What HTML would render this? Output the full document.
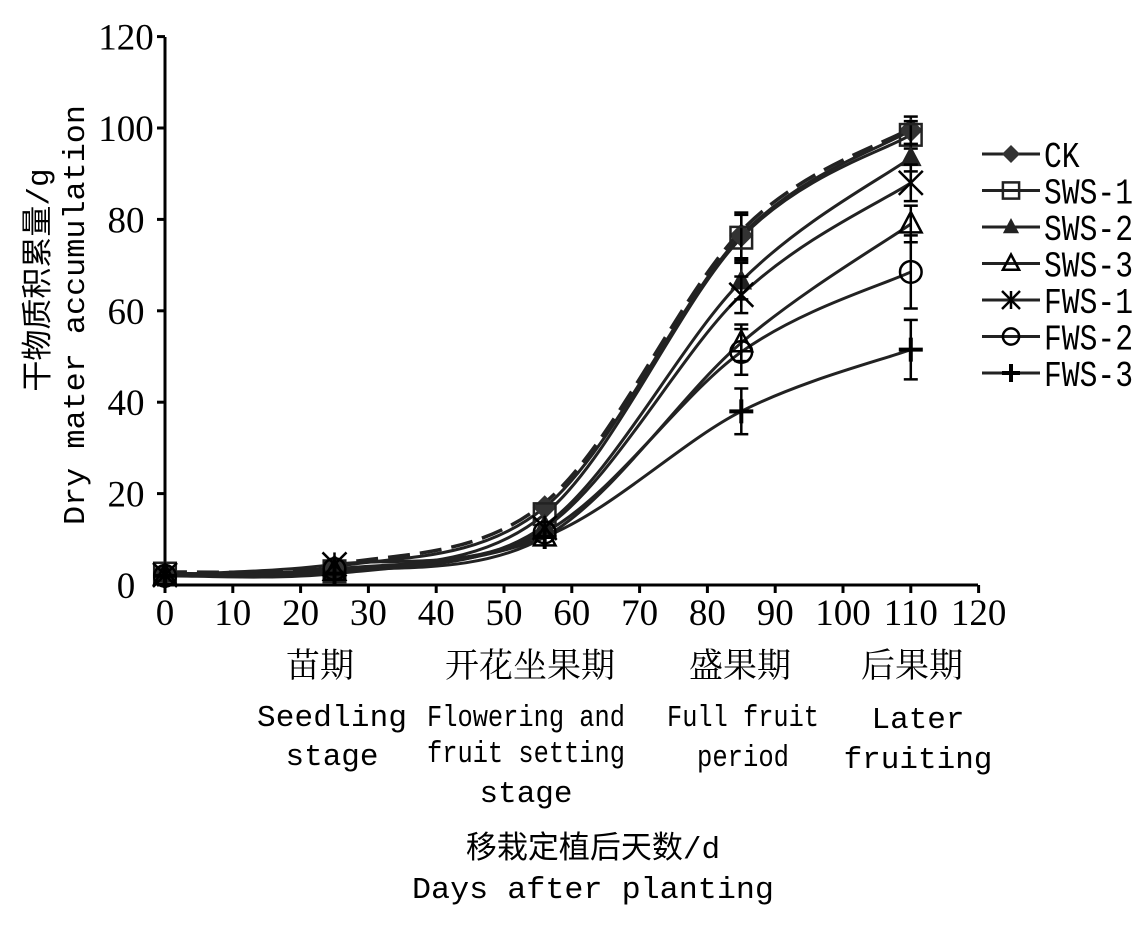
<!DOCTYPE html>
<html><head><meta charset="utf-8"><style>
body{margin:0;background:#fff;}
svg text{font-family:"Liberation Serif","Noto Serif CJK SC","Noto Sans CJK SC",serif;fill:#000;}
.m{font-family:'Liberation Mono','Noto Sans CJK SC',monospace;}
</style></head><body>
<svg id="s" width="1142" height="925" xmlns="http://www.w3.org/2000/svg">
<g stroke="#000" stroke-width="3" fill="none">
<line x1="165" y1="37" x2="165" y2="587"/>
<line x1="163" y1="585" x2="978" y2="585"/>
</g>
<g id="ticks" stroke="#000" stroke-width="3"></g>
<g id="lab" font-size="37" text-anchor="middle"></g>
<g id="curves"></g>
<g font-size="34" text-anchor="middle">
<text x="320" y="677">苗期</text>
<text x="530" y="677">开花坐果期</text>
<text x="740" y="677">盛果期</text>
<text x="912" y="677">后果期</text>
</g>
<g font-size="31" text-anchor="middle">
<text class="m" x="332" y="726" textLength="150">Seedling</text>
<text class="m" x="332" y="765">stage</text>
<text class="m" x="526" y="726" textLength="198" lengthAdjust="spacingAndGlyphs">Flowering and</text>
<text class="m" x="526" y="762" textLength="198" lengthAdjust="spacingAndGlyphs">fruit setting</text>
<text class="m" x="526" y="802">stage</text>
<text class="m" x="743" y="726" textLength="152" lengthAdjust="spacingAndGlyphs">Full fruit</text>
<text class="m" x="743" y="766" textLength="92" lengthAdjust="spacingAndGlyphs">period</text>
<text class="m" x="918" y="728">Later</text>
<text class="m" x="918" y="768">fruiting</text>
<text class="m" x="593" y="858">移栽定植后天数/d</text>
<text class="m" x="593" y="898" textLength="362" lengthAdjust="spacingAndGlyphs">Days after planting</text>
</g>
<g font-size="31" text-anchor="middle">
<text class="m" transform="translate(48,280) rotate(-90)">干物质积累量/g</text>
<text class="m" transform="translate(84,315) rotate(-90)" textLength="420" lengthAdjust="spacingAndGlyphs">Dry mater accumulation</text>
</g>
<g id="leg" font-size="36"></g>
</svg>
<script>
var NS="http://www.w3.org/2000/svg",s=document.getElementById('s');
function el(p,t,a,txt){var e=document.createElementNS(NS,t);for(var k in a)e.setAttribute(k,a[k]);if(txt!=null)e.textContent=txt;p.appendChild(e);return e;}
function X(v){return 165+6.78*v;}function Y(v){return 585-4.57*v;}
var tk=document.getElementById('ticks'),lb=document.getElementById('lab');
for(var i=0;i<=120;i+=10){el(tk,'line',{x1:X(i),y1:585,x2:X(i),y2:593});el(lb,'text',{x:X(i),y:625},i);}
for(var j=0;j<=120;j+=20){el(tk,'line',{x1:157,y1:Y(j),x2:165,y2:Y(j)});el(lb,'text',{x:126,y:Y(j)+13},j);}
var days=[0,25,56,85,110];
var S=[
['CK',[2.5,4,17,76.5,99.5],'dia',[0,0,0,5,3]],
['SWS-1',[2.5,3,15.5,76,98.5],'sq',[0,0,0,5,3]],
['SWS-2',[2.3,3,13,66.5,93.5],'tri',[0,0,0,4,3]],
['SWS-3',[2,3,10.5,53,79],'otri',[0,0,0,4,4]],
['FWS-1',[2.2,4.5,12.5,63.5,88],'x',[0,0,0,4,4]],
['FWS-2',[2,3.5,11.5,51,68.5],'o',[0,0,0,5,8]],
['FWS-3',[2,2.5,10.5,38,51.5],'plus',[0,0,0,5,6.5]]];
var cg=document.getElementById('curves');
function path(v){var p=days.map(function(d,i){return[X(d),Y(v[i])]});var d='M'+p[0];
for(var i=0;i<p.length-1;i++){var p0=p[i-1]||p[i],p1=p[i],p2=p[i+1],p3=p[i+2]||p2;
d+=' C'+(p1[0]+(p2[0]-p0[0])/6)+','+(p1[1]+(p2[1]-p0[1])/6)+' '+(p2[0]-(p3[0]-p1[0])/6)+','+(p2[1]-(p3[1]-p1[1])/6)+' '+p2;}return d;}
function mk(g,t,x,y,r){var st={stroke:'#000','stroke-width':2.5};
if(t=='dia')el(g,'polygon',{points:[x,y-r,x+r,y,x,y+r,x-r,y].join(' '),fill:'#333'});
if(t=='sq')el(g,'rect',{x:x-r*0.9,y:y-r*0.9,width:r*1.8,height:r*1.8,fill:'none',stroke:'#222','stroke-width':2.5});
if(t=='tri')el(g,'polygon',{points:[x,y-r,x+r*.9,y+r*.7,x-r*.9,y+r*.7].join(' '),fill:'#222'});
if(t=='otri')el(g,'polygon',{points:[x,y-r,x+r*.9,y+r*.7,x-r*.9,y+r*.7].join(' '),fill:'none',stroke:'#000','stroke-width':2.5});
if(t=='x'){el(g,'line',Object.assign({x1:x-r,y1:y-r,x2:x+r,y2:y+r},st));el(g,'line',Object.assign({x1:x-r,y1:y+r,x2:x+r,y2:y-r},st));el(g,'line',Object.assign({x1:x,y1:y-r,x2:x,y2:y+r},st));}
if(t=='o')el(g,'circle',{cx:x,cy:y,r:r*.9,fill:'none',stroke:'#000','stroke-width':2.5});
if(t=='plus'){el(g,'line',{x1:x-r,y1:y,x2:x+r,y2:y,stroke:'#000','stroke-width':4});el(g,'line',{x1:x,y1:y-r,x2:x,y2:y+r,stroke:'#000','stroke-width':4});}}
S.forEach(function(s,k){el(cg,'path',{d:path(s[1]),fill:'none',stroke:'#222','stroke-width':3});});
el(cg,'path',{d:path([2.8,4.5,18,77.5,100]),fill:'none',stroke:'#222','stroke-width':3.5,'stroke-dasharray':'22,10'});
S.forEach(function(s){s[1].forEach(function(v,i){var x=X(days[i]),y=Y(v),e=s[3][i];
if(e){el(cg,'line',{x1:x,y1:Y(v-e),x2:x,y2:Y(v+e),stroke:'#000','stroke-width':2.5});[v-e,v+e].forEach(function(q){el(cg,'line',{x1:x-7,y1:Y(q),x2:x+7,y2:Y(q),stroke:'#000','stroke-width':2.5});});}
mk(cg,s[2],x,y,12);});});
var lg=document.getElementById('leg');
S.forEach(function(s,k){var y=154+36.5*k;el(lg,'line',{x1:982,y1:y,x2:1040,y2:y,stroke:'#222','stroke-width':3});mk(lg,s[2],1011,y,9);
el(lg,'text',{x:1044,y:y+13,'class':'m',textLength:s[0].length*17.8,lengthAdjust:'spacingAndGlyphs'},s[0]);});
</script>
</body></html>
